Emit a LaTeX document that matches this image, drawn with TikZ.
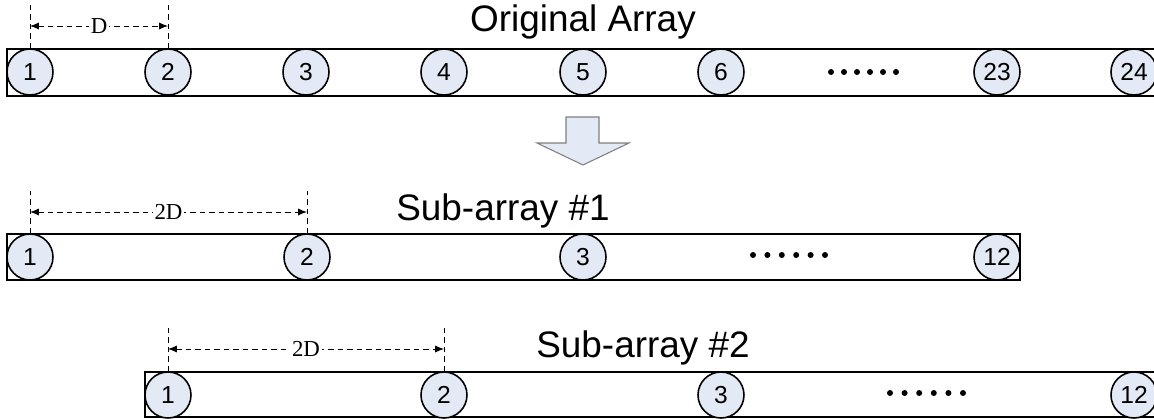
\documentclass[tikz,border=0pt]{standalone}
\usepackage{fontspec}
\setmainfont{Liberation Serif}
\setsansfont{Liberation Sans}
\usetikzlibrary{arrows.meta}
\definecolor{elemfill}{HTML}{E3EAF5}
\definecolor{arrowline}{HTML}{7F7F7F}

\begin{document}
\begin{tikzpicture}[x=0.02cm, y=-0.02cm,
    elem/.style={draw, circle, fill=elemfill, line width=0.9pt, inner sep=0pt,
      minimum size=0.92cm, font=\sffamily\fontsize{14}{16}\selectfont},
    array/.style={draw, line width=1.1pt},
    dim/.style={dashed, dash pattern=on 3.2pt off 2.2pt, line width=0.5pt},
    dimarrow/.style={dim, {Latex[length=5pt,width=4pt]}-{Latex[length=5pt,width=4pt]}},
    dimlabel/.style={fill=white, inner sep=1pt, font=\fontsize{13}{15}\selectfont},
    title/.style={font=\sffamily\fontsize{21}{25}\selectfont}]
\useasboundingbox (0,0) rectangle (1154,419);
\clip (0,0) rectangle (1154,419);

% Original array
\node[title] (otitle) at (583,22) {Original Array};
\draw[array] (7,49) rectangle (1170,96);
\node[elem] (o1) at (30,72) {1};
\node[elem] (o2) at (168,72) {2};
\node[elem] (o3) at (306,72) {3};
\node[elem] (o4) at (444,72) {4};
\node[elem] (o5) at (583,72) {5};
\node[elem] (o6) at (721,72) {6};
\node[elem] (o23) at (997,72) {23};
\node[elem] (o24) at (1134,72) {24};
\foreach \k in {0,...,5}
  \fill (831+13*\k,72) circle (3);
\coordinate (oT1) at (30,5);
\coordinate (oT2) at (168,5);
\coordinate (oA1) at (30,26);
\coordinate (oA2) at (168,26);
\draw[dim] (o1.north) -- (oT1);
\draw[dim] (o2.north) -- (oT2);
\draw[dimarrow] (oA1) -- node[dimlabel] {D} (oA2);

% Down arrow
\draw[fill=elemfill, draw=arrowline, line width=0.6pt]
  (566,117) -- (599,117) -- (599,143) -- (629,143) -- (583,165)
  -- (537,143) -- (566,143) -- cycle;

% Sub-array #1
\node[title] (atitle) at (503,211) {Sub-array \#1};
\draw[array] (7,234) rectangle (1020,280);
\node[elem] (a1) at (30,257) {1};
\node[elem] (a2) at (307,257) {2};
\node[elem] (a3) at (583,257) {3};
\node[elem] (a12) at (997,257) {12};
\foreach \k in {0,...,5}
  \fill (753+14.4*\k,255) circle (3);
\coordinate (aT1) at (30,191);
\coordinate (aT2) at (307,191);
\coordinate (aA1) at (30,212);
\coordinate (aA2) at (307,212);
\draw[dim] (a1.north) -- (aT1);
\draw[dim] (a2.north) -- (aT2);
\draw[dimarrow] (aA1) -- node[dimlabel] {2D} (aA2);

% Sub-array #2
\node[title] (btitle) at (643,348) {Sub-array \#2};
\draw[array] (145,372) rectangle (1170,417);
\node[elem] (b1) at (168,395) {1};
\node[elem] (b2) at (444,395) {2};
\node[elem] (b3) at (721,395) {3};
\node[elem] (b12) at (1134,395) {12};
\foreach \k in {0,...,5}
  \fill (890+14.6*\k,393) circle (3);
\coordinate (bT1) at (168,327);
\coordinate (bT2) at (444,327);
\coordinate (bA1) at (168,349);
\coordinate (bA2) at (444,349);
\draw[dim] (b1.north) -- (bT1);
\draw[dim] (b2.north) -- (bT2);
\draw[dimarrow] (bA1) -- node[dimlabel] {2D} (bA2);
\end{tikzpicture}
\end{document}
